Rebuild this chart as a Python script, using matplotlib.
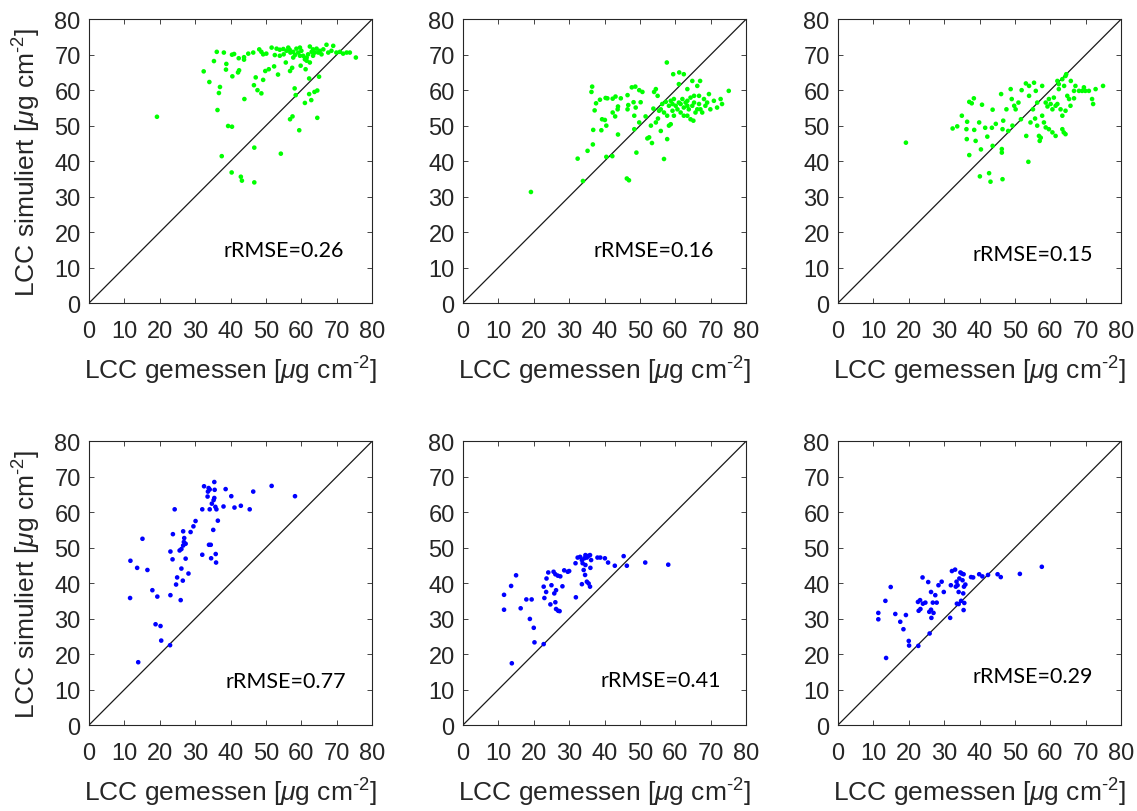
import numpy as np
import matplotlib
matplotlib.use("Agg")
import matplotlib.pyplot as plt

plt.rcParams['font.family'] = ['Liberation Sans', 'DejaVu Sans']
plt.rcParams['mathtext.fontset'] = 'custom'
plt.rcParams['mathtext.rm'] = 'Liberation Sans'
plt.rcParams['mathtext.it'] = 'Liberation Sans:italic'

# top row: green (measured vs simulated)
x_a = [19.2, 32.4, 34.0, 35.3, 36.1, 38.1, 37.0, 36.7, 36.3, 38.8, 38.7, 37.5, 39.3, 40.4,
       40.4, 41.0, 40.5, 42.1, 42.4, 42.3, 43.8, 43.8, 45.0, 43.9, 40.3, 42.9, 43.2, 46.7,
       46.7, 46.4, 47.1, 46.6, 47.6, 48.7, 48.1, 48.7, 49.2, 49.2, 49.8, 50.8, 52.3, 53.4,
       54.2, 55.6, 56.8, 57.4, 58.1, 58.4, 56.8, 57.5, 59.4, 59.8, 61.2, 61.0, 62.2, 62.2,
       62.8, 63.7, 64.5, 64.5, 65.0, 51.6, 53.0, 53.9, 54.9, 55.8, 56.7, 57.7, 58.6, 59.1,
       60.0, 60.5, 61.0, 61.5, 62.4, 62.9, 63.3, 64.3, 64.8, 65.2, 66.2, 67.1, 67.6, 68.5,
       69.9, 70.9, 71.8, 72.8, 73.7, 75.4, 62.4, 61.5, 59.6, 58.2, 56.9, 55.0, 53.9, 52.5,
       50.1, 56.3, 59.6, 63.8, 61.9, 65.7, 69.0, 57.7, 63.3]
y_a = [52.5, 65.3, 62.3, 68.2, 70.8, 70.6, 60.9, 59.2, 54.4, 67.4, 65.8, 41.4, 49.9, 49.7,
       70.0, 70.2, 63.9, 65.0, 65.6, 69.0, 69.3, 68.6, 70.3, 57.5, 36.8, 35.6, 34.5, 34.0,
       43.8, 70.6, 63.6, 61.4, 60.0, 59.1, 71.5, 70.8, 70.1, 62.9, 65.4, 65.9, 66.7, 64.4,
       42.1, 67.8, 65.4, 66.3, 60.5, 58.6, 51.8, 52.6, 48.7, 66.9, 65.9, 56.4, 63.3, 58.9,
       57.2, 59.5, 59.9, 52.2, 63.8, 72.0, 71.7, 71.4, 71.6, 71.1, 71.4, 70.8, 71.7, 70.6,
       71.1, 69.7, 68.7, 69.2, 72.3, 70.8, 71.5, 71.7, 70.6, 71.1, 71.5, 72.8, 70.6, 71.1,
       70.6, 70.8, 70.3, 70.6, 70.6, 69.2, 67.8, 68.3, 69.7, 69.9, 70.6, 70.1, 69.7, 69.9,
       70.3, 72.0, 72.0, 70.6, 70.1, 70.1, 72.5, 69.2, 69.7]

x_b = [19.2, 33.9, 32.4, 35.2, 36.7, 36.8, 36.5, 36.3, 37.6, 38.7, 37.2, 39.3, 40.1, 40.5,
       39.1, 40.3, 40.8, 42.3, 43.1, 42.3, 43.0, 40.5, 42.2, 43.8, 43.7, 43.8, 44.6, 46.5,
       46.7, 46.5, 46.3, 46.9, 47.7, 48.7, 48.2, 48.8, 48.4, 49.0, 49.8, 50.7, 50.2, 49.8,
       48.4, 51.6, 52.1, 52.6, 53.4, 53.1, 53.8, 54.0, 54.5, 55.0, 54.5, 55.1, 55.9, 55.4,
       56.8, 57.6, 57.7, 56.3, 57.3, 58.2, 58.7, 59.2, 59.6, 60.1, 60.6, 61.0, 61.5, 62.0,
       62.4, 62.9, 63.4, 63.8, 64.3, 64.8, 65.3, 65.7, 66.2, 66.7, 67.1, 67.6, 68.1, 68.5,
       69.0, 69.9, 70.9, 71.8, 72.8, 73.2, 75.1, 59.4, 61.1, 62.4, 61.0, 63.4, 64.8, 67.0,
       69.5, 66.2, 64.3, 65.1, 63.4, 62.4, 58.7, 58.2, 59.6, 61.5, 57.7, 56.8, 55.9, 63.4,
       59.2, 65.3, 66.7]
y_b = [31.3, 34.4, 40.7, 42.9, 44.7, 48.8, 61.0, 59.5, 56.3, 57.3, 54.3, 51.8, 51.6, 50.0,
       48.7, 57.8, 57.7, 57.6, 58.2, 53.7, 52.6, 41.2, 41.4, 55.4, 54.6, 47.5, 57.7, 58.6,
       55.8, 54.6, 35.1, 34.6, 60.8, 61.0, 56.6, 55.1, 52.8, 42.4, 60.0, 59.5, 56.6, 50.9,
       49.0, 52.6, 46.4, 46.7, 45.1, 50.0, 54.8, 59.5, 60.3, 58.4, 50.9, 52.0, 48.5, 54.2,
       40.6, 67.8, 46.2, 56.1, 56.7, 55.6, 57.0, 56.1, 57.5, 55.6, 54.6, 56.5, 56.1, 57.5,
       55.1, 56.5, 57.0, 54.6, 57.9, 55.6, 56.5, 53.7, 54.6, 56.1, 54.6, 53.7, 57.5, 55.6,
       56.5, 54.6, 57.0, 55.1, 57.5, 56.1, 59.8, 64.5, 65.0, 64.5, 61.7, 60.3, 62.6, 62.6,
       58.9, 61.2, 51.8, 51.4, 52.8, 52.8, 50.4, 50.0, 52.8, 53.7, 52.8, 53.7, 54.6, 55.6,
       54.2, 58.4, 58.4]

x_c = [19.2, 32.4, 33.7, 35.0, 36.5, 36.3, 37.1, 37.8, 38.4, 37.1, 36.4, 38.5, 38.9, 39.9,
       40.4, 40.1, 42.7, 43.1, 40.7, 41.6, 42.2, 43.5, 43.7, 43.7, 44.6, 46.3, 46.3, 46.5,
       46.1, 46.7, 46.5, 47.6, 48.1, 48.8, 49.1, 49.8, 49.3, 50.2, 51.0, 51.9, 51.7, 53.1,
       54.0, 53.2, 53.8, 54.0, 54.4, 55.4, 55.1, 55.9, 56.3, 56.3, 56.8, 57.3, 57.7, 57.7,
       58.2, 58.7, 59.2, 59.6, 60.1, 60.6, 61.0, 61.5, 62.0, 62.4, 63.4, 64.3, 64.5, 65.8,
       66.7, 67.1, 68.1, 69.0, 69.9, 70.9, 71.8, 72.1, 72.8, 74.9, 69.5, 58.7, 59.6, 60.6,
       61.5, 63.4, 63.8, 64.3, 62.9, 63.4, 64.3, 65.3, 64.8, 65.7, 66.7, 57.0, 55.7, 62.4,
       63.9, 62.0]
y_c = [45.2, 49.2, 49.8, 52.8, 51.1, 49.0, 56.7, 56.3, 57.7, 41.7, 46.2, 48.8, 45.7, 50.9,
       43.3, 35.7, 36.6, 34.2, 55.9, 49.4, 46.9, 49.4, 54.5, 44.3, 50.5, 43.4, 42.4, 34.9,
       58.9, 51.4, 49.0, 54.6, 48.5, 60.3, 57.5, 55.6, 50.0, 54.6, 56.5, 60.0, 51.8, 61.9,
       61.2, 47.1, 39.8, 58.4, 50.9, 62.1, 54.6, 59.8, 56.5, 50.0, 47.1, 46.6, 61.2, 52.8,
       50.9, 56.5, 55.4, 57.5, 56.1, 54.6, 57.9, 55.6, 62.6, 61.7, 63.1, 64.0, 64.5, 62.6,
       59.8, 61.2, 59.8, 59.8, 59.8, 59.8, 57.5, 56.1, 60.3, 61.2, 60.8, 49.5, 49.0, 48.1,
       47.1, 49.0, 48.1, 47.6, 54.6, 52.8, 54.2, 57.5, 58.4, 55.6, 57.7, 45.7, 52.0, 60.3,
       61.2, 56.1]

# bottom row: blue
x_d = [13.9, 11.6, 11.7, 13.6, 15.1, 16.5, 17.9, 19.3, 18.8, 20.2, 20.4, 22.9, 23.0, 23.0,
       23.6, 23.7, 24.2, 24.6, 24.9, 25.6, 26.1, 25.9, 26.1, 26.5, 26.6, 26.9, 26.8, 27.3,
       26.6, 27.3, 28.1, 28.7, 29.5, 30.1, 32.0, 32.0, 32.5, 33.5, 33.6, 33.8, 34.1, 33.9,
       34.4, 34.1, 34.5, 34.7, 35.1, 35.2, 35.4, 35.4, 35.5, 35.7, 35.8, 35.9, 36.0, 36.4,
       38.0, 38.6, 40.2, 41.1, 42.9, 45.4, 46.4, 51.6, 58.2]
y_d = [17.7, 35.8, 46.3, 44.3, 52.5, 43.7, 38.0, 36.2, 28.4, 27.9, 23.8, 22.5, 36.6, 48.9,
       46.7, 53.8, 60.8, 39.6, 41.6, 49.2, 49.6, 35.2, 44.1, 40.7, 54.6, 52.7, 51.6, 51.1,
       50.6, 46.9, 42.7, 54.4, 56.0, 57.5, 48.0, 60.8, 67.3, 64.4, 65.8, 66.8, 66.4, 50.8,
       50.8, 60.8, 47.0, 62.4, 55.0, 63.4, 64.0, 68.5, 66.3, 61.5, 48.2, 45.8, 60.8, 57.6,
       61.6, 66.5, 64.5, 61.3, 61.8, 60.8, 65.8, 67.4, 64.5]

x_e = [13.8, 11.6, 11.6, 13.6, 15.0, 16.3, 17.9, 19.4, 18.9, 20.0, 20.2, 22.8, 22.8, 23.5,
       23.0, 23.6, 24.1, 24.7, 25.0, 25.6, 26.1, 25.8, 26.3, 26.1, 26.3, 26.9, 27.3, 26.8,
       27.5, 28.1, 28.6, 29.6, 30.0, 31.9, 31.8, 32.4, 33.1, 33.6, 33.8, 34.3, 34.6, 35.0,
       35.5, 35.9, 36.2, 34.6, 34.1, 34.5, 33.6, 35.0, 35.5, 35.9, 36.0, 38.0, 38.8, 40.1,
       41.0, 42.9, 45.4, 46.3, 51.5, 58.0]
y_e = [17.4, 36.7, 32.5, 39.2, 42.2, 32.9, 35.4, 35.4, 29.9, 27.4, 23.3, 22.8, 39.0, 37.5,
       35.8, 41.3, 43.0, 34.0, 39.4, 43.2, 42.5, 37.1, 38.0, 34.6, 32.7, 32.2, 32.1, 42.1,
       41.9, 39.1, 43.6, 43.2, 43.4, 36.0, 45.6, 47.2, 47.4, 46.5, 45.6, 47.0, 47.9, 47.2,
       47.7, 47.9, 46.5, 45.1, 43.7, 42.3, 39.7, 40.4, 39.9, 39.0, 44.3, 47.2, 47.2, 47.0,
       45.8, 44.9, 47.6, 44.9, 45.8, 45.2]

x_f = [13.6, 11.4, 11.4, 13.4, 14.9, 16.2, 17.6, 19.2, 18.5, 20.0, 20.1, 22.7, 22.6, 23.2,
       22.8, 23.3, 23.9, 24.0, 24.7, 25.5, 25.8, 26.3, 25.9, 26.3, 26.4, 26.8, 27.9, 27.0,
       27.5, 28.4, 29.3, 29.9, 31.7, 31.9, 32.2, 33.1, 33.5, 33.8, 33.3, 34.1, 34.3, 34.6,
       35.0, 35.5, 35.2, 35.6, 36.0, 35.4, 34.8, 34.1, 33.6, 35.7, 35.5, 37.6, 38.2, 39.9,
       40.8, 42.4, 45.1, 46.0, 51.4, 57.6]
y_f = [18.9, 31.6, 29.8, 35.0, 38.9, 31.3, 29.1, 31.0, 27.0, 23.7, 22.4, 22.3, 34.7, 35.2,
       32.2, 32.7, 41.6, 34.2, 34.5, 40.3, 31.9, 32.5, 25.8, 37.5, 30.2, 34.5, 34.5, 31.6,
       36.6, 39.4, 40.4, 37.5, 30.2, 39.4, 43.4, 43.8, 40.4, 39.4, 39.0, 37.5, 41.3, 43.0,
       42.7, 42.5, 40.8, 39.0, 39.6, 37.1, 35.0, 34.1, 34.2, 34.4, 32.4, 41.7, 41.6, 42.5,
       41.9, 42.3, 42.5, 41.7, 42.6, 44.6]

rrmse = ["0.26", "0.16", "0.15", "0.77", "0.41", "0.29"]
text_pos = [(55, 15.0), (54, 15.0), (55, 13.8), (55.5, 12.4), (56, 12.7), (55, 13.8)]

panels = [(x_a, y_a), (x_b, y_b), (x_c, y_c), (x_d, y_d), (x_e, y_e), (x_f, y_f)]
colors = ['#00ff00'] * 3 + ['#0000ff'] * 3

fig = plt.figure(figsize=(11.37, 8.12), dpi=100, facecolor='white')
lefts = [0.0783, 0.4072, 0.737]
bottoms = [0.6256, 0.1059]
w, h = 0.249, 0.3495

axcol = '#262626'
ticks = np.arange(0, 81, 10)

for i, (xs, ys) in enumerate(panels):
    r, c = divmod(i, 3)
    ax = fig.add_axes([lefts[c], bottoms[r], w, h])
    ax.plot([0, 80], [0, 80], color='#1a1a1a', lw=0.9)
    ax.scatter(xs, ys, s=11, color=colors[i], edgecolors='none', zorder=3)
    ax.set_xlim(0, 80)
    ax.set_ylim(0, 80)
    ax.set_xticks(ticks)
    ax.set_yticks(ticks)
    ax.tick_params(direction='in', length=3.5, width=0.6, top=True, right=True,
                   labelsize=17, colors=axcol)
    ax.tick_params(axis='x', pad=12)
    ax.tick_params(axis='y', pad=6)
    for sp in ax.spines.values():
        sp.set_color(axcol)
        sp.set_linewidth(0.8)
    ax.set_xlabel(r'LCC gemessen [$\mu$g cm$^{\text{-}2}$]', fontsize=19, color=axcol,
                  labelpad=9)
    if c == 0:
        ax.set_ylabel(r'LCC simuliert [$\mu$g cm$^{\text{-}2}$]', fontsize=19, color=axcol,
                      labelpad=8)
    tx, ty = text_pos[i]
    ax.text(tx, ty, 'rRMSE=' + rrmse[i], fontsize=15.5, family=['Lato', 'DejaVu Sans'],
            ha='center', va='center', color='black')

fig.savefig('out.png', dpi=100, facecolor='white')
